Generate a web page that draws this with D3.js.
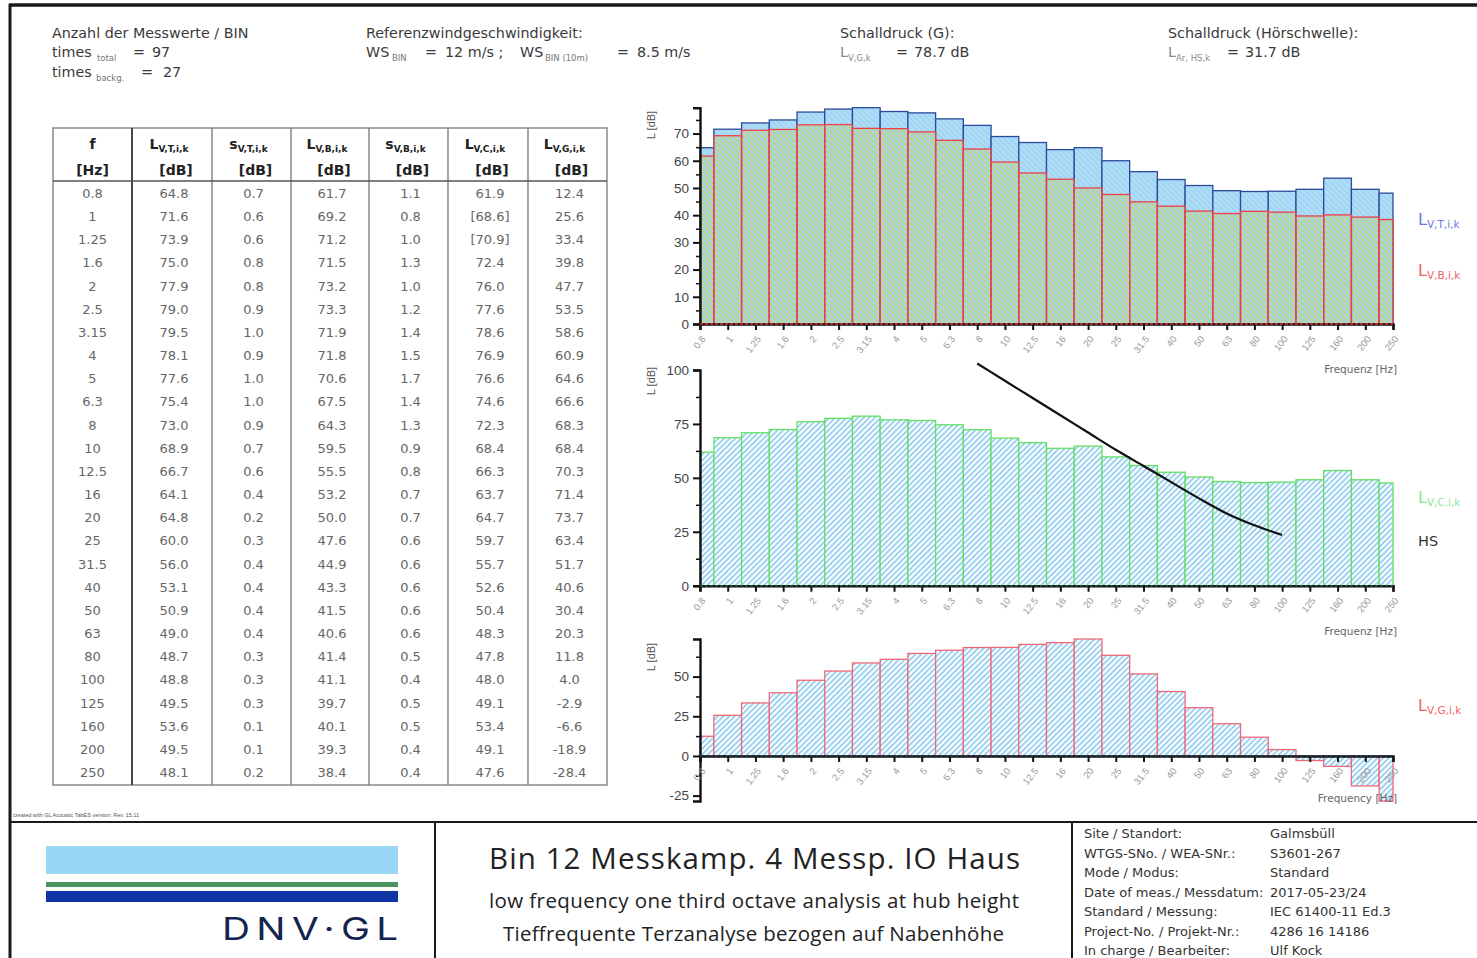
<!DOCTYPE html>
<html>
<head>
<meta charset="utf-8">
<script src="https://cdn.jsdelivr.net/npm/d3@7"></script>
<style>
  body { margin: 0; background: #fff; }
  svg { display: block; }
</style>
</head>
<body>
<script>
// One-third octave band centre frequencies (Hz)
const freqLabels = ["0.8","1","1.25","1.6","2","2.5","3.15","4","5","6.3","8","10","12.5","16","20","25","31.5","40","50","63","80","100","125","160","200","250"];

// Total level, background level, corrected level, G-weighted level (dB)
const lvt = [64.8,71.6,73.9,75.0,77.9,79.0,79.5,78.1,77.6,75.4,73.0,68.9,66.7,64.1,64.8,60.0,56.0,53.1,50.9,49.0,48.7,48.8,49.5,53.6,49.5,48.1];
const svt = [0.7,0.6,0.6,0.8,0.8,0.9,1.0,0.9,1.0,1.0,0.9,0.7,0.6,0.4,0.2,0.3,0.4,0.4,0.4,0.4,0.3,0.3,0.3,0.1,0.1,0.2];
const lvb = [61.7,69.2,71.2,71.5,73.2,73.3,71.9,71.8,70.6,67.5,64.3,59.5,55.5,53.2,50.0,47.6,44.9,43.3,41.5,40.6,41.4,41.1,39.7,40.1,39.3,38.4];
const svb = [1.1,0.8,1.0,1.3,1.0,1.2,1.4,1.5,1.7,1.4,1.3,0.9,0.8,0.7,0.7,0.6,0.6,0.6,0.6,0.6,0.5,0.4,0.5,0.5,0.4,0.4];
const lvc = [61.9,68.6,70.9,72.4,76.0,77.6,78.6,76.9,76.6,74.6,72.3,68.4,66.3,63.7,64.7,59.7,55.7,52.6,50.4,48.3,47.8,48.0,49.1,53.4,49.1,47.6];
const lvcBracketed = ["1","1.25"];   // bands shown in brackets in the table
const lvg = [12.4,25.6,33.4,39.8,47.7,53.5,58.6,60.9,64.6,66.6,68.3,68.4,70.3,71.4,73.7,63.4,51.7,40.6,30.4,20.3,11.8,4.0,-2.9,-6.6,-18.9,-28.4];

// Hearing threshold (HS) curve
const hsFreqs = ["8","10","12.5","16","20","25","31.5","40","50","63","80","100"];
const hsLevels = [103,95,87,79,71,63,55.5,48,40.5,33.5,28,23.5];

// Axis ticks
const topTicks = [0,10,20,30,40,50,60,70];
const topMinor = [5,15,25,35,45,55,65,75];
const midTicks = [0,25,50,75,100];
const midMinor = [12.5,37.5,62.5,87.5];
const botTicks = [-25,0,25,50];
const botMinor = [-12.5,12.5,37.5,62.5];

// Table header
const colNames = ["f","L","s","L","s","L","L"];
const colSubs  = ["","V,T,i,k","V,T,i,k","V,B,i,k","V,B,i,k","V,C,i,k","V,G,i,k"];
const colUnits = ["[Hz]","[dB]","[dB]","[dB]","[dB]","[dB]","[dB]"];

// Footer info block
const infoLabels = ["Site / Standort:","WTGS-SNo. / WEA-SNr.:","Mode / Modus:","Date of meas./ Messdatum:","Standard / Messung:","Project-No. / Projekt-Nr.:","In charge / Bearbeiter:"];
const infoValues = ["Galmsbüll","S3601-267","Standard","2017-05-23/24","IEC 61400-11 Ed.3","4286 16 14186","Ulf Kock"];

const W = 1477, H = 958;
const SANS = "'DejaVu Sans', Verdana, sans-serif";
const ARIAL = "'Liberation Sans', Arial, sans-serif";

const svg = d3.select("body").append("svg").attr("width", W).attr("height", H);
const defs = svg.append("defs");

function hatch(id, bg, stroke, sw, angle, size) {
  const p = defs.append("pattern").attr("id", id)
    .attr("patternUnits", "userSpaceOnUse")
    .attr("width", size).attr("height", size)
    .attr("patternTransform", `rotate(${angle})`);
  if (bg) p.append("rect").attr("width", size).attr("height", size).attr("fill", bg);
  p.append("line").attr("x1", size / 2).attr("x2", size / 2).attr("y1", 0).attr("y2", size)
    .attr("stroke", stroke).attr("stroke-width", sw);
}
hatch("patTotal", "#9fd5f3", "#bde3f8", 1.2, -45, 4);
hatch("patBack", null, "#c8cf5c", 1.5, -45, 4);
hatch("patLight", "#ffffff", "#8ccbee", 1.7, 45, 4);

// ---------- frame ----------
const frame = svg.append("g").attr("stroke", "#1a1a1a").attr("fill", "none");
frame.append("line").attr("x1", 9).attr("x2", W).attr("y1", 5).attr("y2", 5).attr("stroke-width", 3.5);
frame.append("line").attr("x1", 10).attr("x2", 10).attr("y1", 4).attr("y2", H).attr("stroke-width", 3);
frame.append("line").attr("x1", 10).attr("x2", W).attr("y1", 822).attr("y2", 822).attr("stroke-width", 2);
frame.append("line").attr("x1", 435).attr("x2", 435).attr("y1", 822).attr("y2", H).attr("stroke-width", 2);
frame.append("line").attr("x1", 1072).attr("x2", 1072).attr("y1", 822).attr("y2", H).attr("stroke-width", 2);

// ---------- header info ----------
const hdr = svg.append("g").attr("font-family", SANS).attr("fill", "#3a3a3a");
function put(xp, yp, txt, size, fill) {
  const t = hdr.append("text").attr("x", xp).attr("y", yp).attr("font-size", size || 14.3).text(txt);
  if (fill) t.attr("fill", fill);
  return t;
}
put(52, 38, "Anzahl der Messwerte / BIN");
put(52, 57, "times"); put(97, 61, "total", 8.5, "#777"); put(133, 57, "="); put(152, 57, "97");
put(52, 77, "times"); put(96, 81, "backg.", 8.5, "#777"); put(141, 77, "="); put(163, 77, "27");
put(366, 38, "Referenzwindgeschwindigkeit:");
put(366, 57, "WS"); put(392, 61, "BIN", 8.5, "#777"); put(425, 57, "="); put(445, 57, "12 m/s ;");
put(520, 57, "WS"); put(545, 61, "BIN (10m)", 8.5, "#777"); put(617, 57, "="); put(637, 57, "8.5 m/s");
put(840, 38, "Schalldruck (G):");
put(840, 57, "L", 14.3, "#8a8a8a"); put(848, 61, "V,G,k", 8.5, "#8a8a8a"); put(896, 57, "="); put(914, 57, "78.7 dB");
put(1168, 38, "Schalldruck (Hörschwelle):");
put(1168, 57, "L", 14.3, "#8a8a8a"); put(1176, 61, "Ar, HS,k", 8.5, "#8a8a8a"); put(1227, 57, "="); put(1245, 57, "31.7 dB");

// ---------- table ----------
const colX = [53, 132, 212, 291, 369, 448, 528, 607];
const tTop = 128, tHead = 181, tBot = 785;
const rowY0 = 193.5, rowStep = 23.16;
const tbl = svg.append("g");
tbl.append("rect").attr("x", colX[0]).attr("y", tTop).attr("width", colX[7] - colX[0]).attr("height", tBot - tTop)
  .attr("fill", "none").attr("stroke", "#8a8a8a").attr("stroke-width", 1.5);
colX.slice(1, 7).forEach((xp, i) => {
  tbl.append("line").attr("x1", xp).attr("x2", xp).attr("y1", tTop).attr("y2", tBot)
    .attr("stroke", i === 0 ? "#333" : "#777").attr("stroke-width", i === 0 ? 1.8 : 1.3);
});
tbl.append("line").attr("x1", colX[0]).attr("x2", colX[7]).attr("y1", tHead).attr("y2", tHead)
  .attr("stroke", "#555").attr("stroke-width", 1.5);

const colMid = d3.range(7).map(i => (colX[i] + colX[i + 1]) / 2);
colNames.forEach((nm, i) => {
  const t = tbl.append("text").attr("x", colMid[i] + (i ? -3 : 0)).attr("y", 149)
    .attr("text-anchor", "middle").attr("font-family", SANS).attr("font-weight", "bold")
    .attr("font-size", 14).attr("fill", "#222");
  t.append("tspan").text(nm);
  if (colSubs[i]) t.append("tspan").attr("font-size", 9).attr("dy", 2.5).text(colSubs[i]);
  tbl.append("text").attr("x", colMid[i] + (i ? 4 : 0)).attr("y", 175)
    .attr("text-anchor", "middle").attr("font-family", SANS).attr("font-weight", "bold")
    .attr("font-size", 14).attr("fill", "#222").text(colUnits[i]);
});

const fmt = v => v.toFixed(1);
const rows = freqLabels.map((f, i) => [
  f, fmt(lvt[i]), fmt(svt[i]), fmt(lvb[i]), fmt(svb[i]),
  lvcBracketed.includes(f) ? `[${fmt(lvc[i])}]` : fmt(lvc[i]),
  fmt(lvg[i])
]);
rows.forEach((r, ri) => {
  r.forEach((v, ci) => {
    tbl.append("text").attr("x", colMid[ci] + (ci ? 2 : 0)).attr("y", rowY0 + ri * rowStep + 4.5)
      .attr("text-anchor", "middle").attr("font-family", SANS).attr("font-size", 13)
      .attr("fill", "#666").text(v);
  });
});

svg.append("text").attr("x", 13).attr("y", 817).attr("font-family", ARIAL).attr("font-size", 5.5)
  .attr("fill", "#555").text("created with GL Acoustic TabES version: Rev. 15.11");

// ---------- charts ----------
const n = freqLabels.length;
const x = d3.scaleLinear().domain([0, n - 1]).range([700, 1393]);
const bx0 = i => x(Math.max(0, i - 0.5));
const bx1 = i => x(Math.min(n - 1, i + 0.5));

function panel(cfg) {
  const g = svg.append("g");
  const y = d3.scaleLinear().domain(cfg.domain).range(cfg.range);
  cfg.y = y; cfg.g = g;
  cfg.series.forEach(s => {
    g.append("g").selectAll("rect").data(s.values).join("rect")
      .attr("x", (d, i) => bx0(i))
      .attr("width", (d, i) => bx1(i) - bx0(i))
      .attr("y", d => y(Math.max(0, d)))
      .attr("height", d => Math.abs(y(d) - y(0)))
      .attr("fill", s.fill).attr("stroke", s.stroke).attr("stroke-width", 1.3);
  });
  // y axis
  const ya = g.append("g").attr("transform", `translate(${x(0)},0)`)
    .call(d3.axisLeft(y).tickValues(cfg.ticks).tickSize(7).tickPadding(4).tickFormat(d => String(d)));
  ya.select(".domain").attr("stroke", "#111").attr("stroke-width", 2.4);
  ya.selectAll(".tick line").attr("stroke", "#111").attr("stroke-width", 2);
  ya.selectAll(".tick text").attr("font-family", ARIAL).attr("font-size", 13.5).attr("fill", "#444");
  const ym = g.append("g").attr("transform", `translate(${x(0)},0)`)
    .call(d3.axisLeft(y).tickValues(cfg.minor).tickSize(4).tickFormat(""));
  ym.select(".domain").remove();
  ym.selectAll(".tick line").attr("stroke", "#111").attr("stroke-width", 1.5);
  // x axis
  const xa = g.append("g").attr("transform", `translate(0,${y(0)})`)
    .call(d3.axisBottom(x).tickValues(d3.range(n)).tickFormat(i => freqLabels[i]).tickSize(6));
  xa.select(".domain").attr("stroke", "#111").attr("stroke-width", 2.4);
  xa.selectAll(".tick line").attr("stroke", "#111").attr("stroke-width", 2);
  xa.selectAll(".tick text")
    .attr("font-family", ARIAL).attr("font-size", 9.5).attr("fill", "#999")
    .attr("text-anchor", "end").attr("x", 0).attr("y", 0).attr("dy", "0.35em")
    .attr("transform", "translate(3,13) rotate(-52)");
  g.append("line").attr("x1", x(0)).attr("x2", x(n - 1)).attr("y1", y(0)).attr("y2", y(0))
    .attr("stroke", cfg.baseColor).attr("stroke-width", 1.6).attr("stroke-dasharray", "3,2");
  // axis titles
  g.append("text").attr("transform", `translate(655,${cfg.ylabelY}) rotate(-90)`)
    .attr("text-anchor", "middle").attr("font-family", ARIAL).attr("font-size", 11).attr("fill", "#555")
    .text("L  [dB]");
  g.append("text").attr("x", 1397).attr("y", cfg.xlabelY).attr("text-anchor", "end")
    .attr("font-family", SANS).attr("font-size", 10.5).attr("fill", "#666").text(cfg.xlabel);
  return cfg;
}

function legendLabel(xp, yp, sub, color) {
  const t = svg.append("text").attr("x", xp).attr("y", yp).attr("font-family", SANS)
    .attr("font-size", 16).attr("fill", color);
  t.append("tspan").text("L");
  t.append("tspan").attr("font-size", 10.5).attr("dy", 3).text(sub);
}

// Total and background level
panel({
  domain: [0, 79.5], range: [324, 107.7], ticks: topTicks, minor: topMinor,
  series: [
    {values: lvt, fill: "url(#patTotal)", stroke: "#2c4a9a"},
    {values: lvb, fill: "url(#patBack)", stroke: "#ee3e48"}
  ],
  baseColor: "#d8303a", ylabelY: 125, xlabelY: 373, xlabel: "Frequenz [Hz]"
});
legendLabel(1418, 225, "V,T,i,k", "#6a78e0");
legendLabel(1418, 276, "V,B,i,k", "#f06060");

// Corrected level with hearing threshold
const mid = panel({
  domain: [0, 100], range: [585.7, 370], ticks: midTicks, minor: midMinor,
  series: [{values: lvc, fill: "url(#patLight)", stroke: "#62e062"}],
  baseColor: "#1f5a2a", ylabelY: 381, xlabelY: 635, xlabel: "Frequenz [Hz]"
});
const hsLine = d3.line()
  .x((d, i) => x(freqLabels.indexOf(hsFreqs[i])))
  .y(d => mid.y(d))
  .curve(d3.curveMonotoneX);
mid.g.append("path").attr("d", hsLine(hsLevels)).attr("fill", "none")
  .attr("stroke", "#111").attr("stroke-width", 2.2);
legendLabel(1418, 503, "V,C,i,k", "#8ee88e");
svg.append("text").attr("x", 1418).attr("y", 546).attr("font-family", SANS).attr("font-size", 14.5)
  .attr("fill", "#333").text("HS");

// G-weighted level
panel({
  domain: [-28.4, 73.7], range: [801, 639], ticks: botTicks, minor: botMinor,
  series: [{values: lvg, fill: "url(#patLight)", stroke: "#f06878"}],
  baseColor: "#1a4050", ylabelY: 657, xlabelY: 802, xlabel: "Frequency [Hz]"
});
legendLabel(1418, 711, "V,G,i,k", "#f06060");

// ---------- footer ----------
const logo = svg.append("g");
logo.append("rect").attr("x", 46).attr("y", 846).attr("width", 352).attr("height", 28).attr("fill", "#98d8f6");
logo.append("rect").attr("x", 46).attr("y", 882).attr("width", 352).attr("height", 5).attr("fill", "#4b9460");
logo.append("rect").attr("x", 46).attr("y", 891).attr("width", 352).attr("height", 11).attr("fill", "#0e34a6");
logo.append("text").attr("transform", "translate(222,940) scale(1.25,1)")
  .attr("textLength", 141).attr("lengthAdjust", "spacing")
  .attr("font-family", "Inter, 'DejaVu Sans', sans-serif").attr("font-weight", 400)
  .attr("font-size", 31).attr("fill", "#13244f").text("DNV·GL");

const mid2 = svg.append("g").attr("font-family", "'Open Sans', sans-serif").attr("fill", "#222");
mid2.append("text").attr("x", 489).attr("y", 869).attr("font-size", 29.5)
  .attr("textLength", 531).attr("lengthAdjust", "spacing").text("Bin 12  Messkamp. 4 Messp. IO Haus");
mid2.append("text").attr("x", 489).attr("y", 908).attr("font-size", 20.5)
  .attr("textLength", 530).attr("lengthAdjust", "spacing").text("low frequency one third octave analysis at hub height");
mid2.append("text").attr("x", 503).attr("y", 941).attr("font-size", 20.5)
  .attr("textLength", 501).attr("lengthAdjust", "spacing").text("Tieffrequente Terzanalyse bezogen auf Nabenhöhe");

const info = svg.append("g").attr("font-family", SANS).attr("font-size", 13).attr("fill", "#333");
infoLabels.forEach((l, i) => {
  info.append("text").attr("x", 1084).attr("y", 838 + i * 19.5).text(l);
  info.append("text").attr("x", 1270).attr("y", 838 + i * 19.5).text(infoValues[i]);
});
</script>
</body>
</html>
